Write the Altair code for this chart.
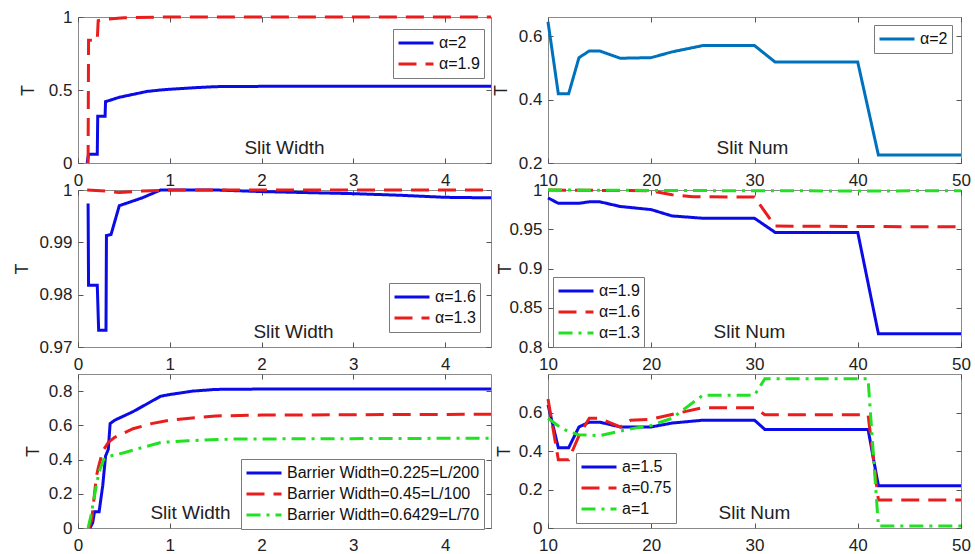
import altair as alt
import pandas as pd

FONT = "Liberation Sans"
BLUE = "#0b0be8"
RED = "#ea1c1c"
GREEN = "#22e022"
MBLUE = "#0072BD"
SOLID = [1, 0]
DASH = [18, 9]
DASHDOT = [14, 6, 3, 6]

# ---------------- Panel A ----------------
a_x_a2 = [0.10, 0.115, 0.21, 0.215, 0.295, 0.30, 0.35, 0.45, 0.6, 0.75, 0.9, 1.0, 1.25, 1.5, 2.0, 3.0, 4.5]
a_t_a2 = [0.0, 0.06, 0.06, 0.32, 0.32, 0.42, 0.43, 0.45, 0.47, 0.49, 0.50, 0.505, 0.515, 0.523, 0.525, 0.525, 0.525]
a_x_a19 = [0.11, 0.115, 0.21, 0.22, 0.30, 0.5, 1.0, 4.5]
a_t_a19 = [0.0, 0.84, 0.84, 0.975, 0.985, 0.995, 1.0, 1.0]

# ---------------- Panel B ----------------
b_x_a16 = [0.11, 0.115, 0.21, 0.225, 0.305, 0.31, 0.36, 0.45, 0.7, 0.9, 1.5, 2.0, 3.0, 3.5, 4.0, 4.5]
b_t_a16 = [0.9974, 0.9818, 0.9818, 0.9732, 0.9732, 0.9913, 0.9915, 0.997, 0.9985, 1.0, 1.0, 0.9997, 0.9993, 0.999, 0.9986, 0.9985]
b_x_a13 = [0.1, 0.3, 0.45, 0.7, 1.0, 4.5]
b_t_a13 = [1.0, 0.9998, 0.9995, 0.9998, 1.0, 1.0]

# ---------------- Panel C ----------------
c_x_w1 = [0.13, 0.16, 0.18, 0.23, 0.27, 0.30, 0.33, 0.35, 0.4, 0.6, 0.9, 1.0, 1.25, 1.5, 2.0, 4.5]
c_t_w1 = [0.0, 0.03, 0.095, 0.095, 0.25, 0.42, 0.46, 0.61, 0.63, 0.68, 0.77, 0.78, 0.80, 0.81, 0.812, 0.812]
c_x_w2 = [0.12, 0.15, 0.2, 0.22, 0.27, 0.33, 0.4, 0.6, 0.8, 1.0, 1.5, 2.0, 4.5]
c_t_w2 = [0.0, 0.05, 0.3, 0.35, 0.45, 0.5, 0.53, 0.58, 0.61, 0.63, 0.655, 0.66, 0.665]
c_x_w3 = [0.11, 0.14, 0.2, 0.23, 0.28, 0.35, 0.5, 0.7, 0.9, 1.2, 1.7, 4.5]
c_t_w3 = [0.0, 0.07, 0.25, 0.33, 0.40, 0.42, 0.44, 0.47, 0.50, 0.51, 0.52, 0.525]

# ---------------- Panel D ----------------
d_x = [10, 11, 12, 13, 14, 15, 17, 20, 22, 25, 30, 32, 40, 42, 50]
d_t = [0.645, 0.418, 0.418, 0.532, 0.553, 0.553, 0.53, 0.532, 0.55, 0.57, 0.57, 0.518, 0.518, 0.225, 0.225]

# ---------------- Panel E ----------------
e_x_a19 = [10, 11, 13, 14, 15, 17, 20, 22, 25, 30, 32, 40, 42, 50]
e_t_a19 = [0.990, 0.983, 0.983, 0.985, 0.985, 0.979, 0.975, 0.967, 0.964, 0.964, 0.946, 0.946, 0.817, 0.817]
e_x_a16 = [10, 20, 22, 24, 30, 32, 50]
e_t_a16 = [1.0, 0.999, 0.994, 0.9915, 0.991, 0.954, 0.953]
e_x_a13 = [10, 20, 30, 40, 50]
e_t_a13 = [1.0, 0.9995, 0.999, 0.9988, 0.999]

# ---------------- Panel F ----------------
f_x_a15 = [10, 11, 12, 13, 14, 15, 17, 20, 22, 25, 30, 31, 41, 42, 50]
f_t_a15 = [0.64, 0.417, 0.417, 0.525, 0.55, 0.55, 0.525, 0.525, 0.545, 0.56, 0.56, 0.512, 0.512, 0.22, 0.22]
f_x_a075 = [10, 11, 12, 13, 14, 15, 17, 18, 20, 22, 25, 30, 31, 41, 42, 50]
f_t_a075 = [0.67, 0.355, 0.355, 0.48, 0.57, 0.57, 0.525, 0.56, 0.565, 0.59, 0.625, 0.625, 0.588, 0.588, 0.145, 0.145]
f_x_a1 = [10, 11, 12, 13, 15, 18, 20, 22, 25, 30, 31, 41, 42, 50]
f_t_a1 = [0.57, 0.53, 0.5, 0.485, 0.48, 0.515, 0.533, 0.57, 0.69, 0.69, 0.775, 0.775, 0.01, 0.01]

X_TICKS_L = [0, 1, 2, 3, 4]
X_TICKS_R = [10, 20, 30, 40, 50]


def panel(series, W, H, xdom, ydom, xticks, yticks, xtitle, xtitle_x, ytitle_x, leg_x, leg_y):
    rows = []
    for name, xs, ts, _c, _d in series:
        for i, (x, t) in enumerate(zip(xs, ts)):
            rows.append({"x": x, "T": t, "s": name, "i": i})
    df = pd.DataFrame(rows)
    names = [s[0] for s in series]
    colors = [s[3] for s in series]
    dashes = [s[4] for s in series]
    xs = alt.Scale(domain=xdom, nice=False, zero=False)
    ys = alt.Scale(domain=ydom, nice=False, zero=False)
    leg = alt.Legend(
        title=None, orient="none", legendX=leg_x, legendY=leg_y,
        symbolType="stroke", symbolSize=1225, symbolStrokeWidth=3,
        clipHeight=20, rowPadding=1, labelFontSize=16, labelFont=FONT,
        labelColor="#111111", fillColor="white", strokeColor="#7a7a7a",
        padding=4, labelOffset=4, symbolOffset=0, labelLimit=400,
    )
    base = alt.Chart(df)
    lines = base.mark_line(strokeWidth=3).encode(
        x=alt.X("x:Q", scale=xs, axis=alt.Axis(
            orient="bottom", values=xticks, format="~f", tickSize=0, domain=False,
            grid=False, labelPadding=9, labelFlush=False, title=xtitle,
            titleX=xtitle_x, titleY=-10, titleBaseline="alphabetic",
            titleFontSize=19, titleFontWeight="normal")),
        y=alt.Y("T:Q", scale=ys, axis=alt.Axis(
            orient="left", values=yticks, format="~f", tickSize=0, domain=False,
            grid=False, labelPadding=6, labelFlush=False, title="T",
            titleX=ytitle_x, titleBaseline="middle",
            titleFontSize=18, titleFontWeight="normal")),
        color=alt.Color("s:N", scale=alt.Scale(domain=names, range=colors), legend=leg),
        strokeDash=alt.StrokeDash("s:N", scale=alt.Scale(domain=names, range=dashes), legend=leg),
        order=alt.Order("i:Q"),
    )
    t1 = base.mark_point(opacity=0).encode(
        x=alt.X("x:Q", axis=alt.Axis(orient="top", offset=-H, labels=False, domain=False,
                                     grid=False, tickSize=5, values=xticks, title=None)),
        y=alt.Y("T:Q", axis=alt.Axis(orient="right", offset=-W, labels=False, domain=False,
                                     grid=False, tickSize=5, values=yticks, title=None)),
    )
    t2 = base.mark_point(opacity=0).encode(
        x=alt.X("x:Q", axis=alt.Axis(orient="bottom", offset=-H, labels=False, domain=False,
                                     grid=False, tickSize=5, values=xticks, title=None)),
        y=alt.Y("T:Q", axis=alt.Axis(orient="left", offset=-W, labels=False, domain=False,
                                     grid=False, tickSize=5, values=yticks, title=None)),
    )
    return alt.layer(lines, t1, t2).resolve_axis(x="independent", y="independent").properties(width=W, height=H)


W = 413
H1, H2, H3 = 146, 157, 154
pA = panel([("α=2", a_x_a2, a_t_a2, BLUE, SOLID), ("α=1.9", a_x_a19, a_t_a19, RED, DASH)],
           W, H1, [0, 4.5], [0, 1], X_TICKS_L, [0, 0.5, 1], "Slit Width", 206, -50, 315, 12)
pB = panel([("α=1.6", b_x_a16, b_t_a16, BLUE, SOLID), ("α=1.3", b_x_a13, b_t_a13, RED, DASH)],
           W, H2, [0, 4.5], [0.97, 1.0], X_TICKS_L, [0.97, 0.98, 0.99, 1], "Slit Width", 215, -56, 311, 93)
pC = panel([("Barrier Width=0.225=L/200", c_x_w1, c_t_w1, BLUE, SOLID),
            ("Barrier Width=0.45=L/100", c_x_w2, c_t_w2, RED, DASH),
            ("Barrier Width=0.6429=L/70", c_x_w3, c_t_w3, GREEN, DASHDOT)],
           W, H3, [0, 4.5], [0, 0.9], X_TICKS_L, [0, 0.2, 0.4, 0.6, 0.8], "Slit Width", 112, -45, 163, 85)
pD = panel([("α=2", d_x, d_t, MBLUE, SOLID)],
           W, H1, [10, 50], [0.2, 0.66], X_TICKS_R, [0.2, 0.4, 0.6], "Slit Num", 204, -47, 326, 8)
pE = panel([("α=1.9", e_x_a19, e_t_a19, BLUE, SOLID), ("α=1.6", e_x_a16, e_t_a16, RED, DASH),
            ("α=1.3", e_x_a13, e_t_a13, GREEN, DASHDOT)],
           W, H2, [10, 50], [0.8, 1.0], X_TICKS_R, [0.8, 0.85, 0.9, 0.95, 1], "Slit Num", 201, -43, 5, 87)
pF = panel([("a=1.5", f_x_a15, f_t_a15, BLUE, SOLID), ("a=0.75", f_x_a075, f_t_a075, RED, DASH),
            ("a=1", f_x_a1, f_t_a1, GREEN, DASHDOT)],
           W, H3, [10, 50], [0, 0.8], X_TICKS_R, [0, 0.2, 0.4, 0.6], "Slit Num", 206, -44, 28, 79)

chart = alt.concat(
    pA, pD, pB, pE, pC, pF, columns=2, spacing={"row": 27, "column": 57}, bounds="flush"
).resolve_scale(
    color="independent", strokeDash="independent"
).configure(
    padding={"left": 12, "top": 7, "right": 0, "bottom": 0}, background="white"
).configure_view(
    stroke="#8a8a8a", strokeWidth=1
).configure_axis(
    labelFont=FONT, titleFont=FONT, labelFontSize=17, labelColor="#222222",
    titleColor="#222222", tickColor="#555555", tickWidth=1
)

chart.save("out.html", embed_options={"renderer": "svg", "actions": False})
